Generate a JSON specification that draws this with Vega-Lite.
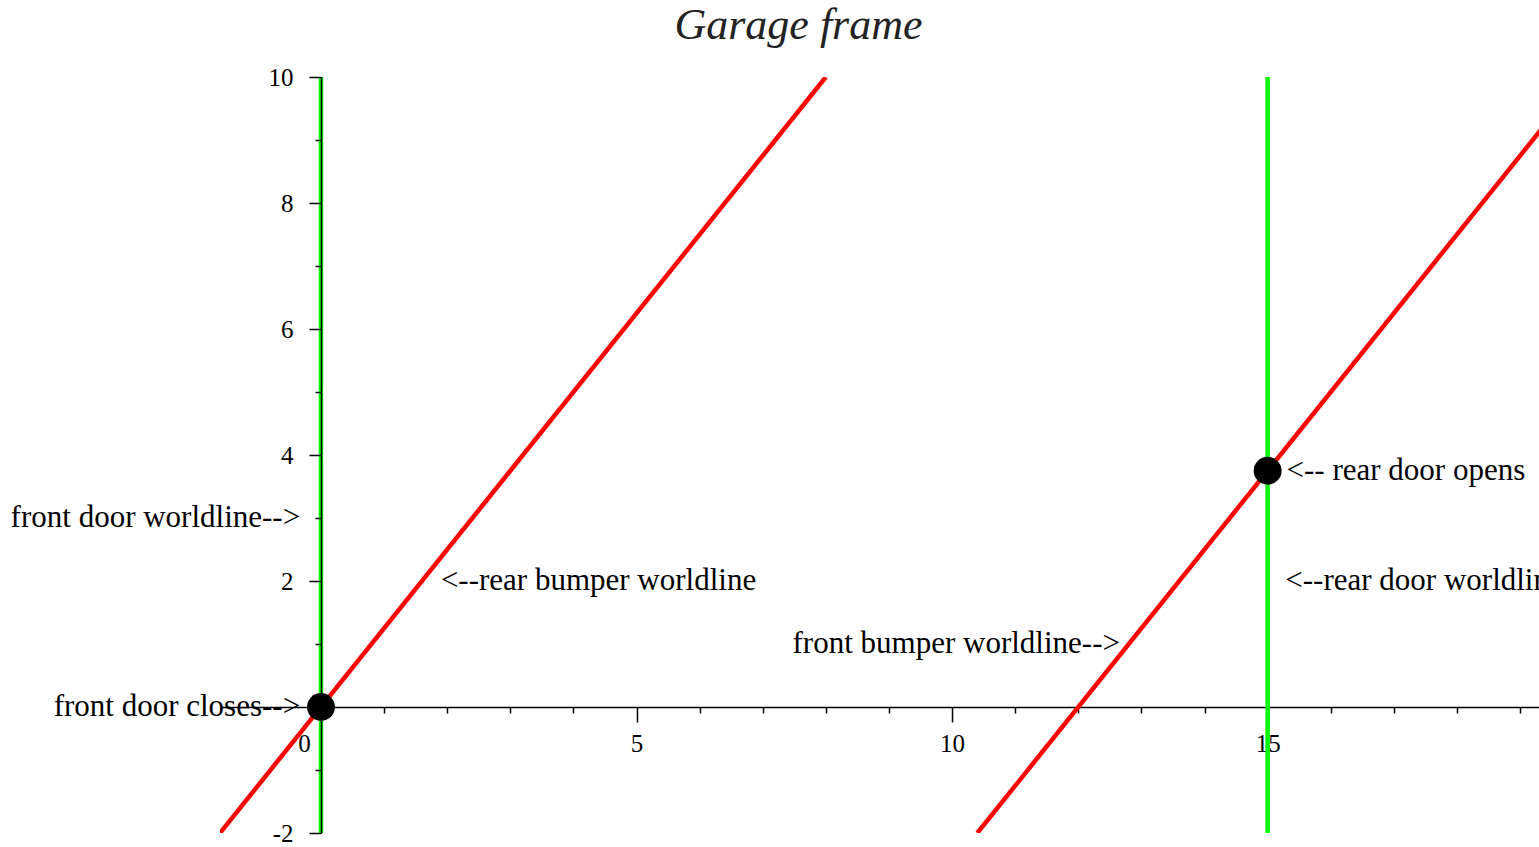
{
  "$schema": "https://vega.github.io/schema/vega-lite/v6.json",
  "width": 1319,
  "height": 756,
  "autosize": {"type": "none"},
  "padding": {"left": 220, "top": 77, "right": 0, "bottom": 14},
  "background": "white",
  "title": {
    "text": "Garage frame",
    "font": "Liberation Serif",
    "fontStyle": "italic",
    "fontWeight": "normal",
    "fontSize": 44,
    "color": "#222222",
    "anchor": "middle",
    "baseline": "alphabetic",
    "offset": -18,
    "dx": -81
  },
  "config": {
    "view": {"stroke": null},
    "axis": {"grid": false, "domainColor": "black", "tickColor": "black", "labelColor": "black", "labelFont": "Liberation Serif", "labelFontSize": 25, "domainWidth": 1.5, "tickWidth": 1.5, "title": null, "labelFlush": false, "labelOverlap": false}
  },
  "resolve": {"axis": {"x": "independent", "y": "independent"}},
  "datasets": {
    "lines": [
      {"name": "rear bumper", "kind": "car", "x": -1.6, "t": -2},
      {"name": "rear bumper", "kind": "car", "x": 8, "t": 10},
      {"name": "front bumper", "kind": "car", "x": 10.4, "t": -2},
      {"name": "front bumper", "kind": "car", "x": 20, "t": 10},
      {"name": "front door", "kind": "garage", "x": 0, "t": -2},
      {"name": "front door", "kind": "garage", "x": 0, "t": 10},
      {"name": "rear door", "kind": "garage", "x": 15, "t": -2},
      {"name": "rear door", "kind": "garage", "x": 15, "t": 10}
    ],
    "events": [
      {"event": "front door closes", "x": 0, "t": 0},
      {"event": "rear door opens", "x": 15, "t": 3.75}
    ],
    "labels": [
      {"label": "front door worldline-->", "x": -0.33, "t": 3, "side": "right"},
      {"label": "front door closes-->", "x": -0.33, "t": 0, "side": "right"},
      {"label": "front bumper worldline-->", "x": 12.66, "t": 1, "side": "right"},
      {"label": "<--rear bumper worldline", "x": 1.9, "t": 2, "side": "left"},
      {"label": "<-- rear door opens", "x": 15.3, "t": 3.75, "side": "left"},
      {"label": "<--rear door worldline", "x": 15.28, "t": 2, "side": "left"}
    ]
  },
  "layer": [
    {
      "data": {"name": "lines"},
      "mark": {"type": "line", "strokeWidth": 4.5, "clip": true},
      "encoding": {
        "x": {
          "field": "x", "type": "quantitative",
          "scale": {"domain": [-1.6, 19.3], "nice": false, "zero": false},
          "axis": {
            "orient": "bottom", "offset": -126, "zindex": 0,
            "values": [0, 5, 10, 15],
            "format": "d",
            "tickSize": 15,
            "labelOffset": {"condition": {"test": "datum.value === 0", "value": -17}, "value": 0},
            "labelPadding": 9
          }
        },
        "y": {
          "field": "t", "type": "quantitative",
          "scale": {"domain": [-2, 10], "nice": false, "zero": false},
          "axis": {
            "orient": "left", "offset": -101, "zindex": 1,
            "values": [-2, 2, 4, 6, 8, 10],
            "format": "d",
            "labelExpr": "replace(datum.label, '\u2212', '-')",
            "tickSize": 12,
            "labelPadding": 16
          }
        },
        "detail": {"field": "name"},
        "color": {
          "field": "kind", "type": "nominal",
          "scale": {"domain": ["car", "garage"], "range": ["#ff0000", "#00ff00"]},
          "legend": null
        }
      }
    },
    {
      "data": {"name": "events"},
      "mark": {"type": "point", "filled": true, "size": 780, "color": "black", "opacity": 1},
      "encoding": {
        "x": {
          "field": "x", "type": "quantitative",
          "axis": {
            "orient": "bottom", "offset": -126, "zindex": 0,
            "values": [1, 2, 3, 4, 6, 7, 8, 9, 11, 12, 13, 14, 16, 17, 18, 19],
            "tickSize": 6, "labels": false, "domain": false
          }
        },
        "y": {
          "field": "t", "type": "quantitative",
          "axis": {
            "orient": "left", "offset": -101, "zindex": 1,
            "values": [-1, 1, 3, 5, 7, 9],
            "tickSize": 6, "labels": false, "domain": false
          }
        }
      }
    },
    {
      "data": {"name": "labels"},
      "transform": [{"filter": "datum.side === 'right'"}],
      "mark": {"type": "text", "align": "right", "baseline": "middle", "font": "Liberation Serif", "fontSize": 31, "color": "black"},
      "encoding": {
        "x": {"field": "x", "type": "quantitative", "axis": null},
        "y": {"field": "t", "type": "quantitative", "axis": null},
        "text": {"field": "label"}
      }
    },
    {
      "data": {"name": "labels"},
      "transform": [{"filter": "datum.side === 'left'"}],
      "mark": {"type": "text", "align": "left", "baseline": "middle", "font": "Liberation Serif", "fontSize": 31, "color": "black"},
      "encoding": {
        "x": {"field": "x", "type": "quantitative", "axis": null},
        "y": {"field": "t", "type": "quantitative", "axis": null},
        "text": {"field": "label"}
      }
    }
  ]
}
